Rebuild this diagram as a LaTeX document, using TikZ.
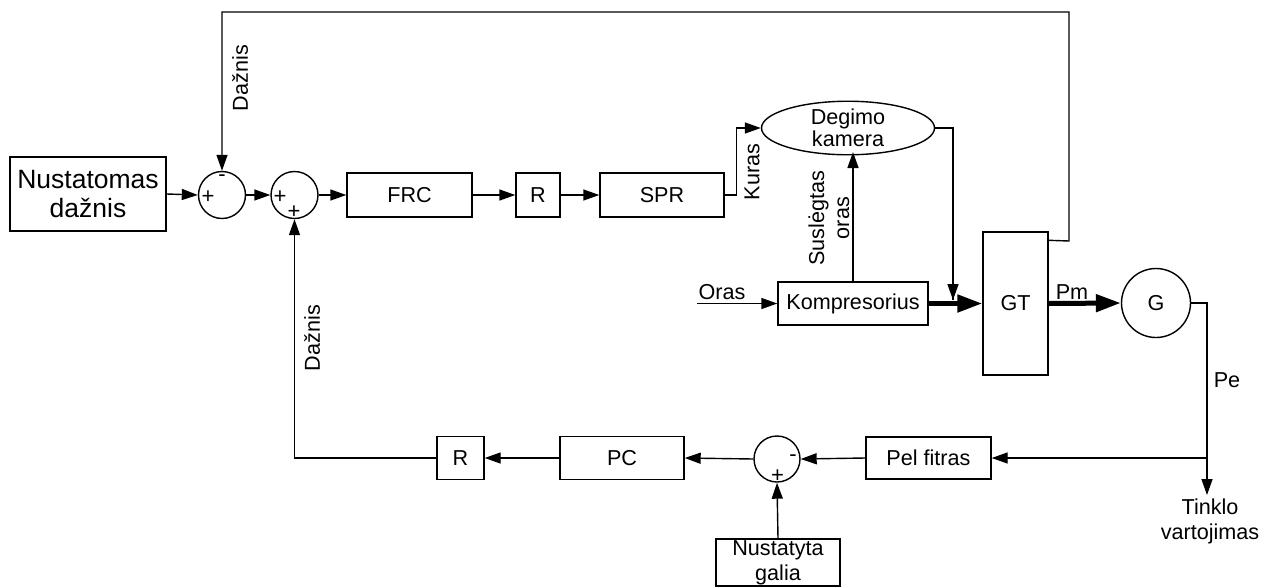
\documentclass[tikz,border=0pt]{standalone}
\usepackage{fontspec}
\setmainfont{Liberation Sans}
\usetikzlibrary{arrows.meta,shapes.geometric,calc}
\begin{document}
\begin{tikzpicture}[x=1pt,y=-1pt,
  line width=1.4pt,
  every node/.style={font=\fontsize{21.6}{24}\selectfont, inner sep=0pt},
  blk/.style={draw, rectangle, align=center},
  sumc/.style={draw, circle, minimum size=#1},
  arr/.style={-{Triangle[length=16pt,width=11pt]}},
  thk/.style={line width=5pt,-{Triangle[length=25pt,width=17pt]}},
  sgn/.style={font=\fontsize{22}{22}\selectfont},
  lbl/.style={font=\fontsize{21.6}{24}\selectfont, align=center}]
\useasboundingbox (0,0) rectangle (1275,587);
% blocks
\node[blk, minimum width=156pt, minimum height=74pt, font=\fontsize{26.5}{29}\selectfont] (nd) at (88,194) {Nustatomas\\dažnis};
\node[sumc=47pt] (s1) at (222,195) {};
\node[sumc=47pt] (s2) at (294.5,195) {};
\node[blk, minimum width=125pt, minimum height=44pt] (frc) at (409.5,195) {FRC};
\node[blk, minimum width=44pt, minimum height=44pt] (r1) at (538,195) {R};
\node[blk, minimum width=124pt, minimum height=44pt] (spr) at (662,195) {SPR};
\node[draw, ellipse, minimum width=173pt, minimum height=50pt, align=center, font=\fontsize{21.6}{22}\selectfont] (dk) at (848,128) {Degimo\\kamera};
\node[blk, minimum width=150pt, minimum height=43pt] (komp) at (853,303.5) {Kompresorius};
\node[blk, minimum width=65pt, minimum height=143pt] (gt) at (1015.5,303.5) {GT};
\node[sumc=69pt] (g) at (1156,303) {G};
\node[blk, minimum width=125pt, minimum height=42pt] (pel) at (928.5,458) {Pel fitras};
\node[sumc=46pt] (s3) at (777,459) {};
\node[blk, minimum width=124pt, minimum height=43pt] (pc) at (622,458) {PC};
\node[blk, minimum width=47pt, minimum height=43pt] (r2) at (460.5,458) {R};
\node[blk, minimum width=124pt, minimum height=47pt, font=\fontsize{21.6}{25}\selectfont] (ng) at (778,562.5) {Nustatyta\\galia};
% signs
\node[sgn] (p1) at (208,197) {+};
\node[sgn] (m1) at (222,178) {-};
\node[sgn] (p2) at (280,197) {+};
\node[sgn] (p3) at (294,212) {+};
\node[sgn] (m3) at (793,458) {-};
\node[sgn] (p4) at (777.5,476) {+};
% coordinates
\coordinate (oin) at (697,303.5);
\coordinate (j1) at (953,300);
\coordinate (fb) at ($(gt.north east)+(0,9)$);
\coordinate (tv) at (1207,495);
\coordinate (br) at (1207,458);
% main path
\draw[arr] (nd.east) -- (s1.west);
\draw[arr] (s1.east) -- (s2.west);
\draw[arr] (s2.east) -- (frc.west);
\draw[arr] (frc.east) -- (r1.west);
\draw[arr] (r1.east) -- (spr.west);
\draw[arr] (spr.east) -- ++(12,0) |- (dk.west);
\draw[arr] (komp.north) -- (komp.north |- 0,152);
\draw[arr] (oin) -- (komp.west);
\draw (dk.east) -| (j1);
\draw[arr] (dk.east -| j1) -- (j1);
\draw[thk] (komp.east) -- (gt.west);
\draw[thk] (gt.east) -- (g.west);
\draw[arr] (fb) -- (1069,241) -- (1069,12) -| (s1.north);
\draw (g.east) -| (br);
\draw[arr] (br) -- (tv);
\draw[arr] (br) -- (pel.east);
\draw[arr] (pel.west) -- (s3.east);
\draw[arr] (s3.west) -- (pc.east);
\draw[arr] (pc.west) -- (r2.east);
\draw[arr] (r2.west) -| (s2.south);
\draw[arr] (ng.north) -- (s3.south);
% labels
\node[lbl, rotate=90] (l1) at (240,78) {Dažnis};
\node[lbl, rotate=90] (l2) at (312,338) {Dažnis};
\node[lbl, rotate=90] (l3) at (752,172) {Kuras};
\node[lbl, rotate=90, font=\fontsize{21.6}{25}\selectfont] (l4) at (829,218) {Suslėgtas\\oras};
\node[lbl] (l5) at (722,292) {Oras};
\node[lbl] (l6) at (1072,292) {Pm};
\node[lbl] (l7) at (1227,380) {Pe};
\node[lbl, anchor=north, font=\fontsize{21.6}{25}\selectfont] (l8) at (1210,498) {Tinklo\\vartojimas};
\end{tikzpicture}
\end{document}
